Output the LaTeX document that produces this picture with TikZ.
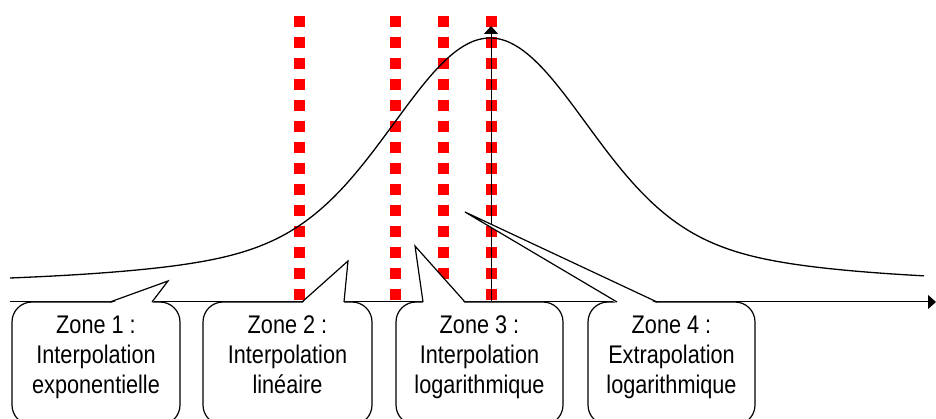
\documentclass[tikz,border=0pt]{standalone}
\usepackage{fontspec}
\newfontfamily\zonefont[FakeStretch=0.85]{Liberation Sans}
\usetikzlibrary{arrows.meta}

\begin{document}
\begin{tikzpicture}[x=1pt, y=-1pt, >={Triangle[width=14pt,length=8pt]},
  zone/.style={align=center, inner sep=0pt, font=\zonefont\fontsize{25.5}{30}\selectfont},
  bubble/.style={draw, line width=1.2pt, fill=white, rounded corners=20pt},
  limit/.style={red, line width=11pt, dash pattern=on 11pt off 10pt}]
  \clip (0,0) rectangle (936,419);

  % Zone limits
  \foreach \x in {299, 395, 443, 491}
    \draw[limit] (\x,16) -- (\x,303);

  % Curve
  \draw[line width=1.3pt] plot[domain=-480:434, samples=200, smooth]
    ({490+\x}, {284-246*(0.7*exp(-((\x/130)^2))+0.3/cosh(\x/150))});

  % Axes
  \draw[line width=1pt, ->] (10,302) -- (936,302);
  \draw[line width=1pt, ->] (491,302) -- (491,26);

  % Callouts (box, then pointer)
  \foreach \l/\r/\a/\b/\tx/\ty in {12/180/110/152/168/281, 203/372/302/344/348/261,
      396/563/423/465/415/246, 588/755/617/657/465/212} {
    \draw[bubble] (\l,302) rectangle (\r,425);
    \fill[white] (\a,303.5) -- (\tx,\ty) -- (\b,303.5) -- cycle;
    \draw[line width=1.2pt] (\a,302) -- (\tx,\ty) -- (\b,302);
  }

  % Labels
  \node[zone] (zone1) at (96,357) {\strut Zone 1 :\\Interpolation\\exponentielle\strut};
  \node[zone] (zone2) at (287.5,357) {\strut Zone 2 :\\Interpolation\\linéaire\strut};
  \node[zone] (zone3) at (479.5,357) {\strut Zone 3 :\\Interpolation\\logarithmique\strut};
  \node[zone] (zone4) at (671.5,357) {\strut Zone 4 :\\Extrapolation\\logarithmique\strut};

\end{tikzpicture}
\end{document}
